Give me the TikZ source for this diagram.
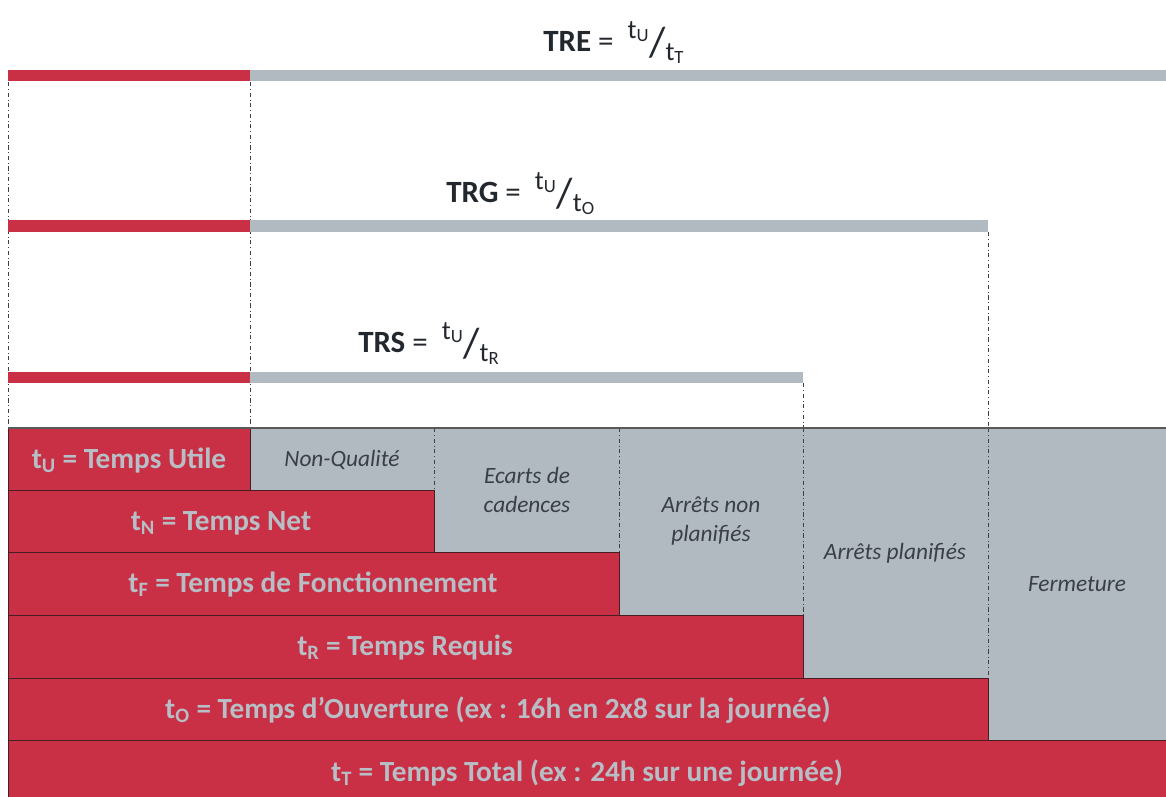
\documentclass[tikz,border=0pt]{standalone}
\usepackage{fontspec}
\setmainfont{Carlito}
\definecolor{trsred}{HTML}{C93045}
\definecolor{trsgray}{HTML}{B1B9C1}
\definecolor{lighttext}{HTML}{B7BEC6}
\definecolor{darktext}{HTML}{3A3F46}
\definecolor{titletext}{HTML}{23282E}
\definecolor{edge}{HTML}{4A1D22}
\tikzstyle{redbox} = [fill=trsred, draw=edge, line width=0.7pt]
\tikzstyle{graybox} = [fill=trsgray]
\tikzstyle{redtext} = [anchor=base, inner sep=0pt, text=lighttext, font=\fontsize{20.8}{25}\selectfont\bfseries]
\tikzstyle{graytext} = [anchor=center, align=center, inner sep=0pt, text=darktext, font=\fontsize{16.6}{20}\selectfont\itshape]
\tikzstyle{ratio} = [anchor=base west, inner sep=0pt, text=titletext, font=\fontsize{22}{26}\selectfont]
\tikzstyle{guide} = [draw=black!75, line width=0.5pt, dash dot]
\tikzstyle{topline} = [draw=black!65, line width=0.9pt]
\newcommand{\ratiofrac}[2]{\raisebox{9pt}{\fontsize{19}{22}\selectfont t\textsubscript{#1}}\raisebox{-4pt}{\fontsize{30}{30}\selectfont /}\raisebox{-6.5pt}{\fontsize{19}{22}\selectfont t\textsubscript{#2}}}

\begin{document}
\begin{tikzpicture}[x=0.025cm, y=-0.025cm]
\useasboundingbox (0,0) rectangle (1166,797);

% guides
\draw [guide] (8,82) -- (8,428);
\draw [guide] (250,82) -- (250,428);
\draw [guide] (988,232) -- (988,678);
\draw [guide] (803,383) -- (803,615);

% ratio bars
\fill [trsred] (8,70) rectangle (250,81);
\fill [trsgray] (250,70) rectangle (1166,81);
\fill [trsred] (8,220) rectangle (250,232);
\fill [trsgray] (250,220) rectangle (988,232);
\fill [trsred] (8,372) rectangle (250,383);
\fill [trsgray] (250,372) rectangle (803,383);

\node (tre) [ratio] at (543,51) {\textbf{TRE} =\hspace{10pt}\ratiofrac{U}{T}};
\node (trg) [ratio] at (446,202) {\textbf{TRG} =\hspace{10pt}\ratiofrac{U}{O}};
\node (trs) [ratio] at (358,352) {\textbf{TRS} =\hspace{10pt}\ratiofrac{U}{R}};

% losses
\fill [graybox] (250,428) rectangle (434,490);
\fill [graybox] (434,428) rectangle (619,552);
\fill [graybox] (619,428) rectangle (803,615);
\fill [graybox] (803,428) rectangle (988,678);
\fill [graybox] (988,428) rectangle (1166,740);
\draw [guide] (434,428) -- (434,490);
\draw [guide] (619,428) -- (619,552);
\draw [guide] (803,428) -- (803,615);
\draw [guide] (988,428) -- (988,678);

\node (nq) [graytext] at (342,460) {Non-Qualité};
\node (ec) [graytext] at (527,490) {Ecarts de\\cadences};
\node (anp) [graytext] at (711,521) {Arrêts non\\planifiés};
\node (ap) [graytext] at (895,553) {Arrêts planifiés};
\node (fe) [graytext] at (1077,584) {Fermeture};

% times
\draw [redbox] (8,740) rectangle (1166,803);
\draw [redbox] (8,678) rectangle (988,740);
\draw [redbox] (8,615) rectangle (803,678);
\draw [redbox] (8,552) rectangle (619,615);
\draw [redbox] (8,490) rectangle (434,552);
\draw [redbox] (8,428) rectangle (250,490);
\draw [topline] (8,428) -- (1166,428);

\node (tu) [redtext] at (129,468) {t\textsubscript{U} = Temps Utile};
\node (tn) [redtext] at (221,530) {t\textsubscript{N} = Temps Net};
\node (tf) [redtext] at (313,592) {t\textsubscript{F} = Temps de Fonctionnement};
\node (tr) [redtext] at (405,655) {t\textsubscript{R} = Temps Requis};
\node (to) [redtext] at (498,718) {t\textsubscript{O} = Temps d’Ouverture (ex : 16h en 2x8 sur la journée)};
\node (tt) [redtext] at (587,781) {t\textsubscript{T} = Temps Total (ex : 24h sur une journée)};
\end{tikzpicture}
\end{document}
